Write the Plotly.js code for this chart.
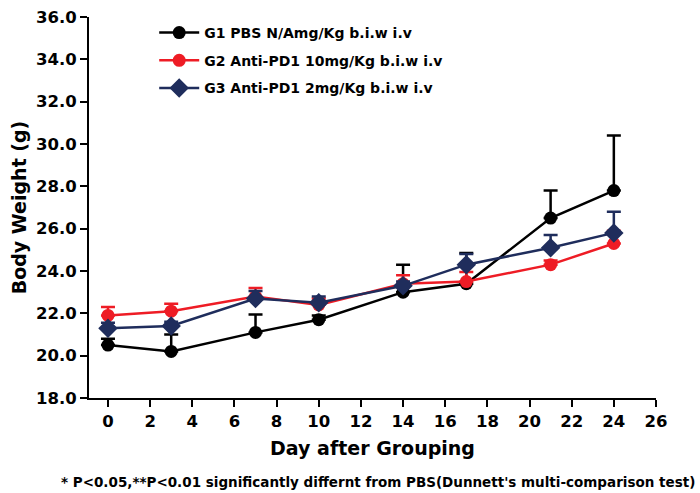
<!DOCTYPE html>
<html><head><meta charset="utf-8">
<script src="https://cdn.plot.ly/plotly-3.0.1.min.js"></script>
<style>html,body{margin:0;padding:0;background:#fff}</style>
</head><body><div id="chart" style="width:700px;height:493px"></div>
<script>
const days = [0, 3, 7, 10, 14, 17, 21, 24];
const g1Name = "G1 PBS N/Amg/Kg b.i.w i.v";
const g2Name = "G2 Anti-PD1 10mg/Kg b.i.w i.v";
const g3Name = "G3 Anti-PD1 2mg/Kg b.i.w i.v";
const g1Mean = [20.5, 20.2, 21.1, 21.7, 23.0, 23.4, 26.5, 27.8];
const g1Err  = [0.3, 0.8, 0.85, 0.2, 1.3, 1.45, 1.3, 2.6];
const g2Mean = [21.9, 22.1, 22.8, 22.4, 23.4, 23.5, 24.3, 25.3];
const g2Err  = [0.4, 0.35, 0.4, 0.3, 0.4, 0.45, 0.2, 0.6];
const g3Mean = [21.3, 21.4, 22.7, 22.5, 23.3, 24.3, 25.1, 25.8];
const g3Err  = [0.25, 0.2, 0.35, 0.3, 0.2, 0.5, 0.6, 1.0];
const xTicks = [0,2,4,6,8,10,12,14,16,18,20,22,24,26];
const yTicks = [18,20,22,24,26,28,30,32,34,36];
const footnote = "* P<0.05,**P<0.01 significantly differnt from PBS(Dunnett's multi-comparison test)";

function series(name, y, err, color, symbol, size, grp) {
  return {
    x: days, y: y, name: name, type: 'scatter', mode: 'lines+markers', legendgroup: grp,
    line: {color: color, width: 2.5},
    marker: {color: color, symbol: symbol, size: size},
    error_y: {type: 'data', symmetric: false, array: err, arrayminus: err.map(() => 0),
              color: color, thickness: 2.5, width: 7}
  };
}
const fontFam = "DejaVu Sans, Liberation Sans, Arial, sans-serif";
const data = [
  series(g1Name, g1Mean, g1Err, '#000000', 'circle', 13, 'a'),
  series(g2Name, g2Mean, g2Err, '#ee1c25', 'circle', 13, 'b'),
  series(g3Name, g3Mean, g3Err, '#1f2d5c', 'diamond', 15, 'c')
];
const layout = {
  width: 700, height: 493,
  margin: {l: 89, r: 44, t: 17, b: 95},
  paper_bgcolor: '#fff', plot_bgcolor: '#fff',
  font: {family: fontFam, color: '#000', weight: 'bold'},
  showlegend: true,
  legend: {x: 0.115, y: 1.0, xanchor: 'left', yanchor: 'top', bgcolor: 'rgba(0,0,0,0)',
           traceorder: 'grouped', tracegroupgap: 6.5,
           font: {size: 14, family: fontFam, weight: 'bold'}, itemwidth: 40},
  xaxis: {
    range: [-0.9, 26], tickvals: xTicks, ticktext: xTicks.map(String),
    showline: true, linecolor: '#000', linewidth: 2, ticks: 'outside', ticklen: 7, tickwidth: 2, tickcolor: '#000',
    showgrid: false, zeroline: false,
    tickfont: {size: 16.5, family: fontFam, weight: 'bold'},
    title: {text: 'Day after Grouping', font: {size: 19, family: fontFam, weight: 'bold'}, standoff: 12}
  },
  yaxis: {
    range: [18, 36], tickvals: yTicks, ticktext: yTicks.map(v => v.toFixed(1)),
    showline: true, linecolor: '#000', linewidth: 2, ticks: 'outside', ticklen: 7, tickwidth: 2, tickcolor: '#000',
    showgrid: false, zeroline: false,
    tickfont: {size: 16.5, family: fontFam, weight: 'bold'},
    title: {text: 'Body Weight (g)', font: {size: 19, family: fontFam, weight: 'bold'}, standoff: 4}
  },
  annotations: [{
    text: footnote, xref: 'paper', yref: 'paper', x: 1.072, y: -0.195, xanchor: 'right', yanchor: 'top',
    showarrow: false, font: {size: 13.5, family: fontFam, weight: 'bold'}
  }]
};
Plotly.newPlot('chart', data, layout, {staticPlot: true, displayModeBar: false});
</script></body></html>
